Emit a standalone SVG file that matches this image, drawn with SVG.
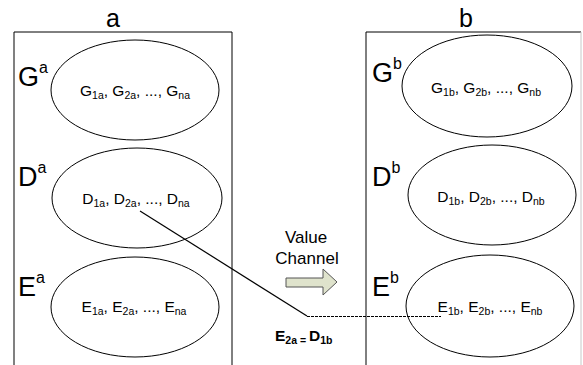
<svg xmlns="http://www.w3.org/2000/svg" width="583" height="365" viewBox="0 0 583 365">
<style>
text{font-family:"Liberation Sans",Arial,sans-serif;fill:#000}
.title{font-size:25px}
.lbl{font-size:27px}
.sup{font-size:16px}
.in{font-size:15.5px}
.sub{font-size:10.5px}
.ell{fill:none;stroke:#000;stroke-width:1}
.box{fill:none;stroke:#000;stroke-width:1}
</style>
<rect width="583" height="365" fill="#fff"/>
<g id="panel-a">
<line x1="14" y1="32" x2="14" y2="365" stroke="#808080" stroke-width="2"/>
<line x1="14" y1="32" x2="232" y2="32" class="box"/>
<line x1="232" y1="32" x2="232" y2="365" class="box"/>
<text class="title" x="113" y="27" text-anchor="middle">a</text>
</g>
<g id="panel-b">
<line x1="366" y1="32" x2="581" y2="32" class="box"/>
<line x1="366" y1="32" x2="366" y2="365" class="box"/>
<line x1="581" y1="32" x2="581" y2="365" stroke="#c8c8c8" stroke-width="1"/>
<text class="title" x="466" y="27" text-anchor="middle">b</text>
</g>
<g id="Ga">
<ellipse class="ell" cx="135" cy="90" rx="84" ry="50"/>
<text class="lbl" x="18" y="86">G<tspan class="sup" dy="-13">a</tspan></text>
<text class="in" x="135" y="96" text-anchor="middle">G<tspan class="sub" dy="3">1a</tspan><tspan dy="-3">, G</tspan><tspan class="sub" dy="3">2a</tspan><tspan dy="-3">, ..., G</tspan><tspan class="sub" dy="3">na</tspan></text>
</g>
<g id="Da">
<ellipse class="ell" cx="137" cy="198" rx="85" ry="50"/>
<text class="lbl" x="18" y="186">D<tspan class="sup" dy="-13">a</tspan></text>
<text class="in" x="136" y="204" text-anchor="middle">D<tspan class="sub" dy="3">1a</tspan><tspan dy="-3">, D</tspan><tspan class="sub" dy="3">2a</tspan><tspan dy="-3">, ..., D</tspan><tspan class="sub" dy="3">na</tspan></text>
</g>
<g id="Ea">
<ellipse class="ell" cx="135" cy="307" rx="84" ry="50"/>
<text class="lbl" x="18" y="296">E<tspan class="sup" dy="-13">a</tspan></text>
<text class="in" x="134" y="312" text-anchor="middle">E<tspan class="sub" dy="3">1a</tspan><tspan dy="-3">, E</tspan><tspan class="sub" dy="3">2a</tspan><tspan dy="-3">, ..., E</tspan><tspan class="sub" dy="3">na</tspan></text>
</g>
<g id="Gb">
<ellipse class="ell" cx="487" cy="86" rx="85" ry="51"/>
<text class="lbl" x="372" y="82">G<tspan class="sup" dy="-13">b</tspan></text>
<text class="in" x="486" y="93" text-anchor="middle">G<tspan class="sub" dy="3">1b</tspan><tspan dy="-3">, G</tspan><tspan class="sub" dy="3">2b</tspan><tspan dy="-3">, ..., G</tspan><tspan class="sub" dy="3">nb</tspan></text>
</g>
<g id="Db">
<ellipse class="ell" cx="492" cy="195" rx="84" ry="50"/>
<text class="lbl" x="372" y="186">D<tspan class="sup" dy="-13">b</tspan></text>
<text class="in" x="491" y="202" text-anchor="middle">D<tspan class="sub" dy="3">1b</tspan><tspan dy="-3">, D</tspan><tspan class="sub" dy="3">2b</tspan><tspan dy="-3">, ..., D</tspan><tspan class="sub" dy="3">nb</tspan></text>
</g>
<g id="Eb">
<ellipse class="ell" cx="490" cy="306" rx="84" ry="51"/>
<text class="lbl" x="372" y="296">E<tspan class="sup" dy="-13">b</tspan></text>
<text class="in" x="490" y="312" text-anchor="middle">E<tspan class="sub" dy="3">1b</tspan><tspan dy="-3">, E</tspan><tspan class="sub" dy="3">2b</tspan><tspan dy="-3">, ..., E</tspan><tspan class="sub" dy="3">nb</tspan></text>
</g>
<g id="value-channel">
<text x="306" y="243" font-size="17" text-anchor="middle">Value</text>
<text x="307" y="264" font-size="17" text-anchor="middle">Channel</text>
<polygon points="286,278 323,278 323,269 337,282 323,295 323,287 286,287" fill="#dfe3cc" stroke="#555" stroke-width="1"/>
</g>
<g id="connectors">
<line x1="140" y1="211" x2="307" y2="316" stroke="#000" stroke-width="1.2"/>
<line x1="307" y1="316.5" x2="441" y2="316.5" stroke="#000" stroke-width="1.2" stroke-dasharray="3,1"/>
</g>
<g id="equality">
<text x="275" y="341" font-size="15.5" font-weight="bold">E<tspan font-size="10.5" dy="3">2a</tspan><tspan font-size="10.5"> = </tspan><tspan dy="-3">D</tspan><tspan font-size="10.5" dy="3">1b</tspan></text>
</g>
</svg>
